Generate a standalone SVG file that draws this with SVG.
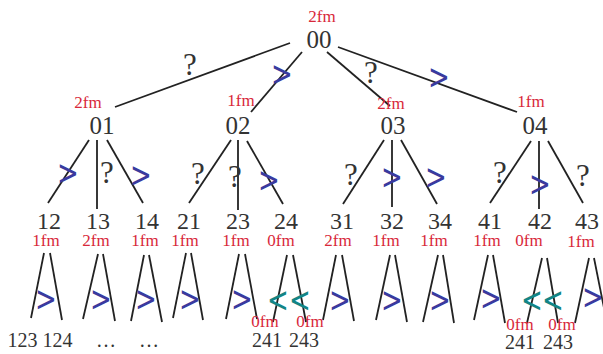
<svg xmlns="http://www.w3.org/2000/svg" width="603" height="354" viewBox="0 0 603 354">
<style>
  .n { font-family: "Liberation Serif", "Times New Roman", serif; font-size: 24px; fill: #333; text-anchor: middle; }
  .n0 { font-size: 25px; }
  .r { font-family: "Liberation Serif", "Times New Roman", serif; font-size: 17px; fill: #d8283a; text-anchor: middle; }
  .q { font-family: "Liberation Serif", "Times New Roman", serif; font-size: 31px; fill: #333; text-anchor: middle; }
  .g { font-family: "DejaVu Sans", sans-serif; font-size: 26px; fill: #3a3a9e; text-anchor: middle; }
  .l { font-family: "DejaVu Sans", sans-serif; font-size: 26px; fill: #128585; text-anchor: middle; }
  .b { font-family: "Liberation Serif", "Times New Roman", serif; font-size: 20px; fill: #333; text-anchor: middle; }
  .e line { stroke: #222; stroke-width: 1.8; }
</style>
<rect width="603" height="354" fill="#fff"/>
<g id="connectors" class="e">
  <line x1="290" y1="43" x2="115" y2="107"/>
  <line x1="302" y1="52" x2="251" y2="112"/>
  <line x1="327" y1="52" x2="390" y2="106"/>
  <line x1="338" y1="47" x2="517" y2="112"/>
  <line x1="89" y1="140" x2="48" y2="203"/>
  <line x1="97" y1="140" x2="97" y2="209"/>
  <line x1="107" y1="140" x2="143" y2="203"/>
  <line x1="231" y1="140" x2="189" y2="203"/>
  <line x1="238" y1="140" x2="238" y2="210"/>
  <line x1="247" y1="141" x2="283" y2="204"/>
  <line x1="384" y1="140" x2="343" y2="204"/>
  <line x1="392" y1="140" x2="392" y2="207"/>
  <line x1="401" y1="140" x2="437" y2="204"/>
  <line x1="531" y1="141" x2="490" y2="203"/>
  <line x1="539" y1="141" x2="539" y2="209"/>
  <line x1="548" y1="141" x2="583" y2="203"/>
  <line x1="44" y1="253" x2="31" y2="318"/>
  <line x1="50" y1="253" x2="62" y2="320"/>
  <line x1="98" y1="254" x2="83" y2="319"/>
  <line x1="103" y1="254" x2="115" y2="321"/>
  <line x1="144" y1="255" x2="131" y2="321"/>
  <line x1="149" y1="255" x2="162" y2="322"/>
  <line x1="186" y1="253" x2="173" y2="318"/>
  <line x1="191" y1="253" x2="203" y2="320"/>
  <line x1="239" y1="254" x2="226" y2="319"/>
  <line x1="245" y1="254" x2="257" y2="319"/>
  <line x1="287" y1="255" x2="273" y2="322"/>
  <line x1="293" y1="255" x2="306" y2="322"/>
  <line x1="336" y1="255" x2="323" y2="320"/>
  <line x1="342" y1="255" x2="354" y2="321"/>
  <line x1="390" y1="255" x2="376" y2="320"/>
  <line x1="395" y1="255" x2="407" y2="322"/>
  <line x1="438" y1="255" x2="423" y2="322"/>
  <line x1="443" y1="255" x2="454" y2="323"/>
  <line x1="488" y1="255" x2="474" y2="320"/>
  <line x1="493" y1="255" x2="505" y2="323"/>
  <line x1="542" y1="258" x2="527" y2="323"/>
  <line x1="547" y1="258" x2="558" y2="323"/>
  <line x1="589" y1="258" x2="575" y2="323"/>
  <line x1="594" y1="258" x2="607" y2="323"/>
</g>
<g id="edge-labels">
  <text class="q" x="190" y="75">?</text>
  <text class="g" transform="translate(282 86) scale(1 1.35)">&gt;</text>
  <text class="q" x="371" y="83">?</text>
  <text class="g" transform="translate(439 89) scale(1 1.35)">&gt;</text>
  <text class="g" transform="translate(68 185) scale(1 1.35)">&gt;</text>
  <text class="q" x="107" y="183">?</text>
  <text class="g" transform="translate(141 187) scale(1 1.35)">&gt;</text>
  <text class="q" x="198" y="184">?</text>
  <text class="q" x="235" y="187">?</text>
  <text class="g" transform="translate(269 192) scale(1 1.35)">&gt;</text>
  <text class="q" x="351" y="185">?</text>
  <text class="g" transform="translate(392 189) scale(1 1.35)">&gt;</text>
  <text class="g" transform="translate(436 189) scale(1 1.35)">&gt;</text>
  <text class="q" x="500" y="183">?</text>
  <text class="g" transform="translate(540 196) scale(1 1.35)">&gt;</text>
  <text class="q" x="583" y="186">?</text>
  <text class="g" transform="translate(46 311) scale(1 1.35)">&gt;</text>
  <text class="g" transform="translate(101 311) scale(1 1.35)">&gt;</text>
  <text class="g" transform="translate(146 311) scale(1 1.35)">&gt;</text>
  <text class="g" transform="translate(190 311) scale(1 1.35)">&gt;</text>
  <text class="g" transform="translate(242 311) scale(1 1.35)">&gt;</text>
  <text class="l" transform="translate(278 312) scale(1 1.35)">&lt;</text>
  <text class="l" transform="translate(300 312) scale(1 1.35)">&lt;</text>
  <text class="g" transform="translate(340 312) scale(1 1.35)">&gt;</text>
  <text class="g" transform="translate(392 312) scale(1 1.35)">&gt;</text>
  <text class="g" transform="translate(440 312) scale(1 1.35)">&gt;</text>
  <text class="g" transform="translate(491 310) scale(1 1.35)">&gt;</text>
  <text class="l" transform="translate(532 312) scale(1 1.35)">&lt;</text>
  <text class="l" transform="translate(553 312) scale(1 1.35)">&lt;</text>
  <text class="g" transform="translate(593 309) scale(1 1.35)">&gt;</text>
</g>
<g id="n00"><text class="r" x="322" y="22">2fm</text><text class="n n0" x="319" y="48">00</text></g>
<g id="n01"><text class="r" x="88" y="108">2fm</text><text class="n n0" x="102" y="134">01</text></g>
<g id="n02"><text class="r" x="241" y="106">1fm</text><text class="n n0" x="238" y="134">02</text></g>
<g id="n03"><text class="r" x="391" y="109">2fm</text><text class="n n0" x="393" y="134">03</text></g>
<g id="n04"><text class="r" x="531" y="107">1fm</text><text class="n n0" x="535" y="134">04</text></g>
<g id="n12"><text class="n" x="49" y="229">12</text><text class="r" x="46" y="246">1fm</text></g>
<g id="n13"><text class="n" x="98" y="229">13</text><text class="r" x="96" y="246">2fm</text></g>
<g id="n14"><text class="n" x="147" y="229">14</text><text class="r" x="145" y="246">1fm</text></g>
<g id="n21"><text class="n" x="189" y="229">21</text><text class="r" x="185" y="246">1fm</text></g>
<g id="n23"><text class="n" x="238" y="229">23</text><text class="r" x="236" y="246">1fm</text></g>
<g id="n24"><text class="n" x="286" y="229">24</text><text class="r" x="281" y="246">0fm</text></g>
<g id="n31"><text class="n" x="342" y="229">31</text><text class="r" x="338" y="246">2fm</text></g>
<g id="n32"><text class="n" x="392" y="229">32</text><text class="r" x="386" y="246">1fm</text></g>
<g id="n34"><text class="n" x="440" y="229">34</text><text class="r" x="434" y="246">1fm</text></g>
<g id="n41"><text class="n" x="490" y="229">41</text><text class="r" x="487" y="246">1fm</text></g>
<g id="n42"><text class="n" x="540" y="229">42</text><text class="r" x="529" y="246">0fm</text></g>
<g id="n43"><text class="n" x="587" y="229">43</text><text class="r" x="581" y="247">1fm</text></g>
<g id="leaves12"><text class="b" x="40" y="347">123 124</text></g>
<g id="leaves13"><text class="b" x="106" y="347">…</text></g>
<g id="leaves14"><text class="b" x="149" y="347">…</text></g>
<g id="leaves24"><text class="r" x="265" y="327">0fm</text><text class="r" x="310" y="327">0fm</text><text class="b" x="267" y="347">241</text><text class="b" x="304" y="347">243</text></g>
<g id="leaves42"><text class="r" x="520" y="330">0fm</text><text class="r" x="562" y="330">0fm</text><text class="b" x="520" y="349">241</text><text class="b" x="558" y="349">243</text></g>
</svg>
